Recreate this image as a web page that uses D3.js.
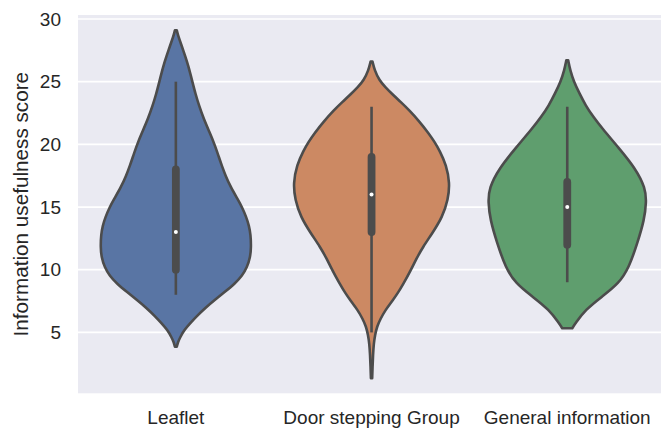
<!DOCTYPE html>
<html>
<head>
<meta charset="utf-8">
<script src="https://cdn.jsdelivr.net/npm/d3@7/dist/d3.min.js"></script>
<style>
  html, body { margin: 0; padding: 0; background: #ffffff; }
  svg { display: block; font-family: "Liberation Sans", Arial, Helvetica, sans-serif; }
</style>
</head>
<body>
<svg id="chart" width="661" height="429"></svg>
<script>
// Groups along the x axis
const categories = ["Leaflet", "Door stepping Group", "General information"];

// Kernel density profiles: [score, relative density]
const leafletDensity = [
  [29.1, 0.012], [28.6, 0.032], [27.9, 0.073], [27.0, 0.121], [26.3, 0.158],
  [25.0, 0.211], [24.0, 0.252], [23.1, 0.296], [22.0, 0.358], [21.0, 0.428],
  [20.0, 0.495], [19.0, 0.549], [18.3, 0.587], [17.5, 0.635], [16.6, 0.700],
  [15.6, 0.792], [15.0, 0.845], [14.2, 0.900], [13.5, 0.935], [12.8, 0.955],
  [11.8, 0.962], [11.0, 0.950], [10.2, 0.910], [9.5, 0.845], [8.9, 0.755],
  [8.2, 0.620], [7.6, 0.500], [7.0, 0.385], [6.3, 0.268], [5.7, 0.179],
  [5.2, 0.109], [4.6, 0.054], [4.2, 0.026], [3.85, 0.012]
];
const doorDensity = [
  [26.6, 0.012], [25.9, 0.040], [25.1, 0.100], [24.6, 0.170], [23.9, 0.281],
  [23.4, 0.370], [22.7, 0.485], [21.8, 0.615], [20.9, 0.728], [20.2, 0.805],
  [19.5, 0.870], [18.35, 0.955], [16.9, 1.000], [15.6, 0.978], [14.2, 0.905],
  [12.9, 0.775], [11.8, 0.655], [10.9, 0.575], [10.0, 0.505], [8.9, 0.409],
  [8.1, 0.332], [7.6, 0.275], [6.8, 0.179], [6.1, 0.115], [5.45, 0.069],
  [4.8, 0.045], [4.1, 0.028], [3.2, 0.019], [2.3, 0.013], [1.35, 0.008]
];
const generalDensity = [
  [26.7, 0.012], [25.9, 0.038], [25.0, 0.085], [24.1, 0.153], [23.1, 0.235],
  [22.2, 0.332], [21.3, 0.443], [19.7, 0.660], [18.1, 0.870], [16.5, 1.000],
  [15.4, 1.010], [14.0, 0.985], [12.1, 0.895], [10.2, 0.790], [8.9, 0.660],
  [7.85, 0.443], [6.8, 0.230], [5.7, 0.102], [5.33, 0.064]
];

// Box summaries: [lower whisker, Q1, median, Q3, upper whisker]
const leafletBox = [8, 10, 13, 18, 25];
const doorBox = [5, 13, 16, 19, 23];
const generalBox = [9, 12, 15, 17, 23];

// Y axis
const yTicks = [5, 10, 15, 20, 25, 30];
const yDomain = [0.14, 30.32];
const yLabel = "Information usefulness score";

const groupColors = ["#5975a4", "#cc8963", "#5f9e6e"];
const lineGray = "#4c4c4c";
const textColor = "#262626";

const groups = categories.map((name, i) => ({
  name,
  density: [leafletDensity, doorDensity, generalDensity][i],
  box: [leafletBox, doorBox, generalBox][i],
  color: groupColors[i]
}));

const svg = d3.select("#chart");
const plot = { left: 78, top: 15, bottom: 393.3, step: 195.7 };
plot.right = plot.left + plot.step * categories.length;

const x = d3.scaleBand()
  .domain(categories)
  .range([plot.left, plot.right])
  .padding(0);
const y = d3.scaleLinear().domain(yDomain).range([plot.bottom, plot.top]);
const halfWidth = d3.scaleLinear().domain([0, 1]).range([0, x.bandwidth() * 0.4]);

// Axes background and horizontal grid
svg.append("rect")
  .attr("x", plot.left).attr("y", plot.top)
  .attr("width", plot.right - plot.left).attr("height", plot.bottom - plot.top)
  .attr("fill", "#eaeaf2");

const yAxis = d3.axisLeft(y).tickValues(yTicks).tickSize(0).tickPadding(17);
const yAxisG = svg.append("g")
  .attr("transform", `translate(${plot.left},0)`)
  .call(yAxis);
yAxisG.select(".domain").remove();
yAxisG.selectAll("text")
  .attr("fill", textColor)
  .style("font-size", "19px")
  .style("font-family", "'Liberation Sans', Arial, sans-serif");

svg.append("g")
  .selectAll("line")
  .data(yTicks)
  .join("line")
  .attr("x1", plot.left).attr("x2", plot.right)
  .attr("y1", d => y(d)).attr("y2", d => y(d))
  .attr("stroke", "#ffffff")
  .attr("stroke-width", 1.7);

// Violins
const area = d3.area()
  .y(d => y(d[0]))
  .curve(d3.curveBasis);

const violins = svg.append("g")
  .selectAll("g")
  .data(groups)
  .join("g")
  .attr("transform", d => `translate(${x(d.name) + x.bandwidth() / 2},0)`);

violins.append("path")
  .attr("d", d => area
    .x0(p => -halfWidth(p[1]))
    .x1(p => halfWidth(p[1]))(d.density))
  .attr("fill", d => d.color)
  .attr("stroke", lineGray)
  .attr("stroke-width", 2.6)
  .attr("stroke-linejoin", "round");

// Inner box: whisker line, IQR bar, median point
violins.append("line")
  .attr("x1", 0).attr("x2", 0)
  .attr("y1", d => y(d.box[0])).attr("y2", d => y(d.box[4]))
  .attr("stroke", lineGray)
  .attr("stroke-width", 2.6);

violins.append("line")
  .attr("x1", 0).attr("x2", 0)
  .attr("y1", d => y(d.box[1])).attr("y2", d => y(d.box[3]))
  .attr("stroke", lineGray)
  .attr("stroke-width", 7.8)
  .attr("stroke-linecap", "round");

violins.append("circle")
  .attr("cx", 0)
  .attr("cy", d => y(d.box[2]))
  .attr("r", 2)
  .attr("fill", "#ffffff");

// X axis labels
const xAxis = d3.axisBottom(x).tickSize(0).tickPadding(17);
const xAxisG = svg.append("g")
  .attr("transform", `translate(0,${plot.bottom})`)
  .call(xAxis);
xAxisG.select(".domain").remove();
xAxisG.selectAll("text")
  .attr("fill", textColor)
  .style("font-size", "19px")
  .style("font-family", "'Liberation Sans', Arial, sans-serif");

// Y axis title
svg.append("text")
  .attr("transform", `translate(28,${(plot.top + plot.bottom) / 2}) rotate(-90)`)
  .attr("text-anchor", "middle")
  .attr("fill", textColor)
  .style("font-size", "20.7px")
  .text(yLabel);
</script>
</body>
</html>
